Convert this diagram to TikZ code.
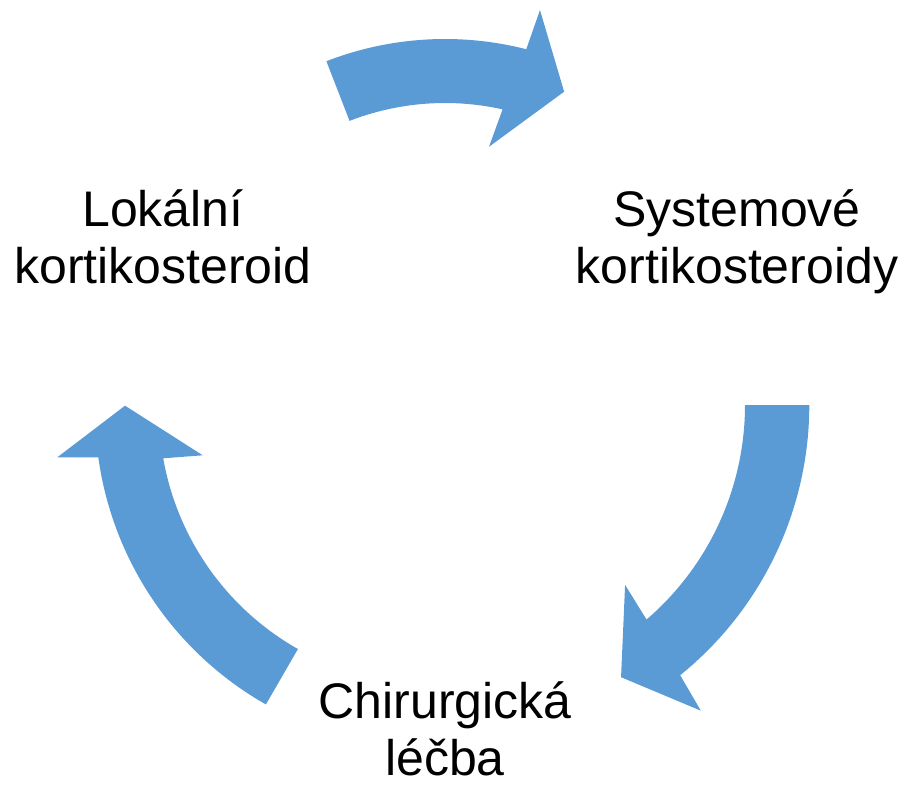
\documentclass[tikz,border=0pt]{standalone}
\usepackage{fontspec}
\setmainfont{Liberation Sans}
\definecolor{officeblue}{RGB}{91,155,213}
\tikzset{
  cyclearrow/.style={fill=officeblue, draw=none},
  lbl/.style={align=center, inner sep=0pt, text=black, font=\fontsize{50}{57}\selectfont}
}
\begin{document}
\begin{tikzpicture}[x=1pt,y=-1pt]
\useasboundingbox (0,0) rectangle (905,786);
% top arrow
\begin{scope}[shift={(445,367)}]
\fill[cyclearrow] (-111.2:328) arc[start angle=-111.2,end angle=-75.65,radius=328]
  -- (-75.1:369.4) -- (-66.6:300) -- (-78.7:224.6) -- (-77.4:264)
  arc[start angle=-77.4,end angle=-111.2,radius=264] -- cycle;
\end{scope}
% right arrow
\begin{scope}[shift={(462,405)}]
\fill[cyclearrow] (0:347.3) arc[start angle=0,end angle=51.08,radius=347.3]
  -- (52:387.9) -- (59.7:315.3) -- (47.8:242.8) -- (49.3:283)
  arc[start angle=49.3,end angle=0,radius=283] -- cycle;
\end{scope}
% left arrow
\begin{scope}[shift={(432.6,411)}]
\fill[cyclearrow] (119.6:337.5) arc[start angle=119.6,end angle=172.1,radius=337.5]
  -- (172.97:378.1) -- (180.99:307.6) -- (169.09:234.1) -- (170.04:273.5)
  arc[start angle=170.04,end angle=119.5,radius=273.5] -- cycle;
\end{scope}
\node[lbl] (lok) at (163,237) {Lokální\\kortikosteroid};
\node[lbl] (sys) at (737,242) {Systemové\\kortikosteroidy};
\node[lbl] (chi) at (445,729) {Chirurgická\\léčba};
\end{tikzpicture}
\end{document}
